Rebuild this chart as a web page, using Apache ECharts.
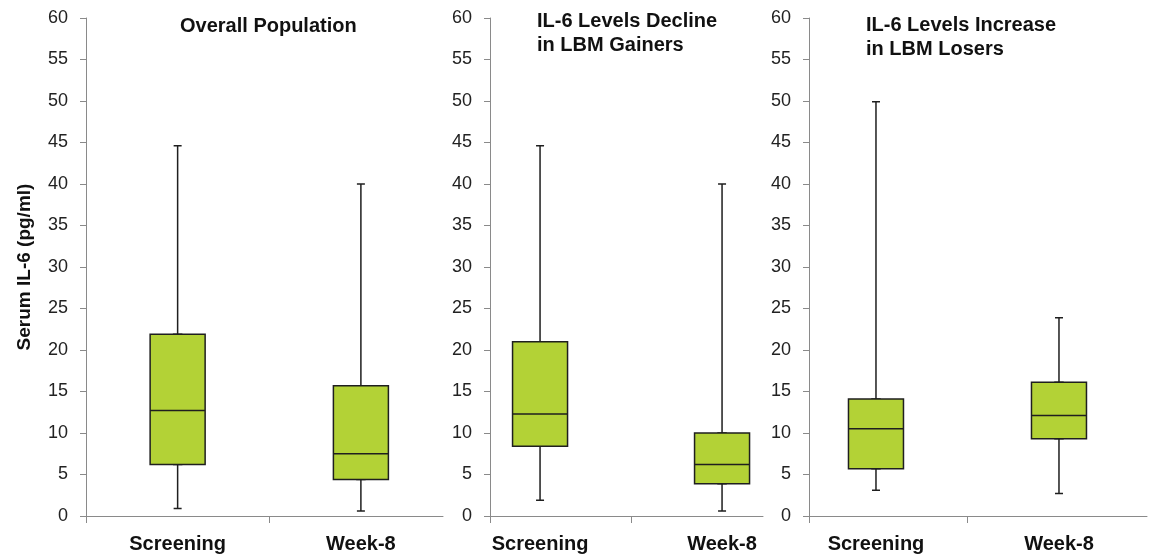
<!DOCTYPE html>
<html>
<head>
    <meta charset="utf-8">
    <title>Serum IL-6</title>
    <style>
        body{
            margin:0;
            background-color:#FFFFFF;
        }
        #main{
            width:1149px;
            height:555px;
        }
    </style>
</head>
<body>
    <div id="main"></div>

    <script src="https://cdn.jsdelivr.net/npm/echarts@6.0.0/dist/echarts.min.js"></script>
    <script>
        // data: [min, Q1, median, Q3, max]
        var categories = ['Screening', 'Week-8'];
        var panelTitles = ['Overall Population', 'IL-6 Levels Decline\nin LBM Gainers', 'IL-6 Levels Increase\nin LBM Losers'];
        var overallStats = [[0.9, 6.2, 12.7, 21.9, 44.6], [0.6, 4.4, 7.5, 15.7, 40.0]];
        var gainersStats = [[1.9, 8.4, 12.3, 21.0, 44.6], [0.6, 3.9, 6.2, 10.0, 40.0]];
        var losersStats = [[3.1, 5.7, 10.5, 14.1, 49.9], [2.7, 9.3, 12.1, 16.1, 23.9]];
        var yMin = 0, yMax = 60, yStep = 5;
        var yName = 'Serum IL-6 (pg/ml)';

        var allStats = [overallStats, gainersStats, losersStats];

        // layout of each panel (grid box and x range around the two categories)
        var panels = [
            {left: 86, width: 357, xMin: -0.5, xMax: 1.448, titleLeft: 180, titleTop: 14},
            {left: 490, width: 273, xMin: -0.275, xMax: 1.225, titleLeft: 537, titleTop: 9},
            {left: 809, width: 338, xMin: -0.366, xMax: 1.481, titleLeft: 866, titleTop: 13}
        ];

        var font = 'Liberation Sans, Arial, sans-serif';
        var boxFill = '#B3D236';
        var boxLine = '#1f1f1f';
        var axisColor = '#8a8a8a';

        var grids = [], xAxes = [], yAxes = [], series = [], titles = [];

        panels.forEach(function(p, i){
            grids.push({left: p.left, top: 18, width: p.width, height: 498, containLabel: false});

            titles.push({
                text: panelTitles[i],
                left: p.titleLeft,
                top: p.titleTop,
                padding: 0,
                textStyle: {fontFamily: font, fontSize: 20, fontWeight: 'bold', color: '#111', lineHeight: 24}
            });

            // visible x axis with the category names
            xAxes.push({
                type: 'value',
                gridIndex: i,
                min: p.xMin,
                max: p.xMax,
                splitLine: {show: false},
                axisLine: {show: true, onZero: false, lineStyle: {color: axisColor, width: 1}},
                axisTick: {show: true, customValues: [p.xMin, 0.5], length: 7, lineStyle: {color: axisColor}},
                axisLabel: {
                    customValues: [0, 1],
                    formatter: function(v){ return categories[Math.round(v)]; },
                    fontFamily: font, fontSize: 20, fontWeight: 'bold', color: '#111', margin: 18
                }
            });
            // hidden x axis for the whisker series (so it is not offset)
            xAxes.push({
                type: 'value',
                gridIndex: i,
                min: p.xMin,
                max: p.xMax,
                show: false
            });

            yAxes.push({
                type: 'value',
                gridIndex: i,
                min: yMin,
                max: yMax,
                interval: yStep,
                splitLine: {show: false},
                axisLine: {show: true, onZero: false, lineStyle: {color: axisColor, width: 1}},
                axisTick: {show: true, length: 6, lineStyle: {color: axisColor}},
                axisLabel: {fontFamily: font, fontSize: 18, color: '#222', margin: 18},
                name: i === 0 ? yName : '',
                nameLocation: 'middle',
                nameRotate: 90,
                nameGap: 52,
                nameTextStyle: {fontFamily: font, fontSize: 19, fontWeight: 'bold', color: '#111'}
            });

            var stats = allStats[i];

            // whiskers with short caps, box hidden under the wide one
            series.push({
                type: 'boxplot',
                xAxisIndex: i * 2 + 1,
                yAxisIndex: i,
                boxWidth: [8, 8],
                z: 1,
                silent: true,
                itemStyle: {color: boxFill, borderColor: boxLine, borderWidth: 1.5},
                data: stats.map(function(s, k){ return [k, s[0], s[1], s[2], s[3], s[4]]; })
            });
            // the boxes
            series.push({
                type: 'boxplot',
                xAxisIndex: i * 2,
                yAxisIndex: i,
                boxWidth: [55, 55],
                z: 2,
                silent: true,
                itemStyle: {color: boxFill, borderColor: boxLine, borderWidth: 1.5},
                data: stats.map(function(s, k){ return [k, s[1], s[1], s[2], s[3], s[3]]; })
            });
        });

        var myChart = echarts.init(document.getElementById('main'));
        myChart.setOption({
            animation: false,
            backgroundColor: '#FFFFFF',
            textStyle: {fontFamily: font},
            title: titles,
            grid: grids,
            xAxis: xAxes,
            yAxis: yAxes,
            series: series
        });
    </script>
</body>
</html>
